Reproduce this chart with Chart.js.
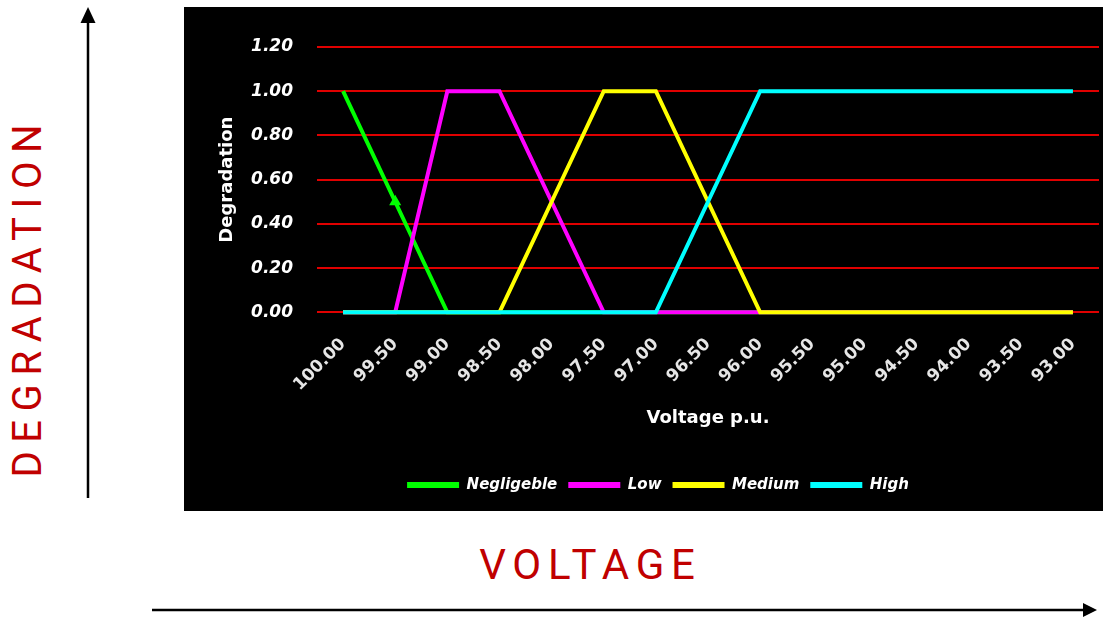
<!DOCTYPE html>
<html>
<head>
<meta charset="utf-8">
<script src="https://cdn.jsdelivr.net/npm/chart.js@4.4.1/dist/chart.umd.min.js"></script>
<style>
  html, body { margin: 0; padding: 0; background: #ffffff; }
  body { position: relative; width: 1103px; height: 618px; overflow: hidden; }
  #box { position: absolute; left: 184px; top: 7px; width: 919px; height: 504px; background: #000000; }
  #arrows { position: absolute; left: 0; top: 0; }
  .side { position: absolute; color: #c00000; font-family: Roboto, sans-serif; white-space: nowrap; line-height: 1; }
  #degr { left: 28px; top: 301px; font-size: 40px; letter-spacing: 8.6px; transform: translate(-50%, -50%) rotate(-90deg); padding-left: 8.6px; }
  #volt { left: 587px; top: 565px; font-size: 42px; letter-spacing: 6.7px; transform: translate(-50%, -50%); padding-left: 6.7px; }
</style>
</head>
<body>
<svg id="arrows" width="1103" height="618">
  <line x1="88" y1="498" x2="88" y2="20" stroke="#000" stroke-width="2.5"/>
  <polygon points="80.5,23 95.5,23 88,7" fill="#000"/>
  <line x1="152" y1="610" x2="1085" y2="610" stroke="#000" stroke-width="2.5"/>
  <polygon points="1083,603 1083,617 1097,610" fill="#000"/>
</svg>
<div class="side" id="degr">DEGRADATION</div>
<div class="side" id="volt">VOLTAGE</div>
<div id="box"><canvas id="c"></canvas></div>
<script>
const categories = ['100.00','99.50','99.00','98.50','98.00','97.50','97.00','96.50','96.00','95.50','95.00','94.50','94.00','93.50','93.00'];
const negligible = [1, 0.5, 0, 0, 0, 0, 0, 0, 0, 0, 0, 0, 0, 0, 0];
const low        = [0, 0, 1, 1, 0.5, 0, 0, 0, 0, 0, 0, 0, 0, 0, 0];
const medium     = [0, 0, 0, 0, 0.5, 1, 1, 0.5, 0, 0, 0, 0, 0, 0, 0];
const high       = [0, 0, 0, 0, 0, 0, 0, 0.5, 1, 1, 1, 1, 1, 1, 1];
const yTicks     = [0, 0.2, 0.4, 0.6, 0.8, 1.0, 1.2];
const seriesNames  = ['Negligeble', 'Low', 'Medium', 'High'];
const seriesColors = ['#00ff00', '#ff00ff', '#ffff00', '#00ffff'];

const FONT = "'DejaVu Sans', sans-serif";
const seriesData = [negligible, low, medium, high];

const datasets = seriesNames.map((name, i) => ({
  label: name,
  data: seriesData[i],
  borderColor: seriesColors[i],
  backgroundColor: seriesColors[i],
  borderWidth: 4,
  pointRadius: i === 0 ? seriesData[i].map((v, k) => (k === 1 ? 3 : 0)) : 0,
  pointStyle: 'triangle',
  pointBackgroundColor: seriesColors[i],
  pointBorderColor: seriesColors[i],
  tension: 0,
  fill: false,
  clip: false,
  order: seriesNames.length - 1 - i
}));

new Chart(document.getElementById('c'), {
  type: 'line',
  data: { labels: categories, datasets },
  options: {
    responsive: true,
    maintainAspectRatio: false,
    animation: false,
    layout: { padding: { left: 33, right: 4, top: 40, bottom: 8.5 } },
    plugins: {
      tooltip: { enabled: false },
      legend: {
        position: 'bottom',
        labels: {
          color: '#ffffff',
          font: { family: FONT, size: 15, weight: 'bold', style: 'italic' },
          boxWidth: 52,
          boxHeight: 6,
          padding: 11,
          sort: (a, b) => a.datasetIndex - b.datasetIndex,
          generateLabels: chart => Chart.defaults.plugins.legend.labels.generateLabels(chart)
            .map(l => Object.assign({}, l, { lineWidth: 0, fillStyle: seriesColors[l.datasetIndex] }))
        }
      }
    },
    scales: {
      x: {
        offset: true,
        grid: { display: false },
        border: { display: false },
        ticks: {
          color: '#e6e6e6',
          font: { family: FONT, size: 17, weight: 'bold' },
          minRotation: 45,
          maxRotation: 45,
          autoSkip: false,
          padding: 14
        },
        title: {
          display: true,
          text: 'Voltage p.u.',
          color: '#ffffff',
          font: { family: FONT, size: 18, weight: 'bold' },
          padding: { top: 0, bottom: 37 }
        },
        afterFit: s => { s.height = 154.2; }
      },
      y: {
        min: 0,
        max: 1.2,
        afterBuildTicks: s => { s.ticks = yTicks.map(v => ({ value: v })); },
        grid: { color: '#e00000', lineWidth: 2, drawTicks: false },
        border: { display: false },
        ticks: {
          color: '#ffffff',
          font: { family: FONT, size: 17, weight: 'bold', style: 'italic' },
          padding: 24,
          callback: v => Number(v).toFixed(2)
        },
        title: {
          display: true,
          text: 'Degradation',
          color: '#ffffff',
          font: { family: FONT, size: 18, weight: 'bold' },
          padding: { top: 0, bottom: 0 }
        },
        afterFit: s => { s.width = 100; }
      }
    }
  }
});
</script>
</body>
</html>
